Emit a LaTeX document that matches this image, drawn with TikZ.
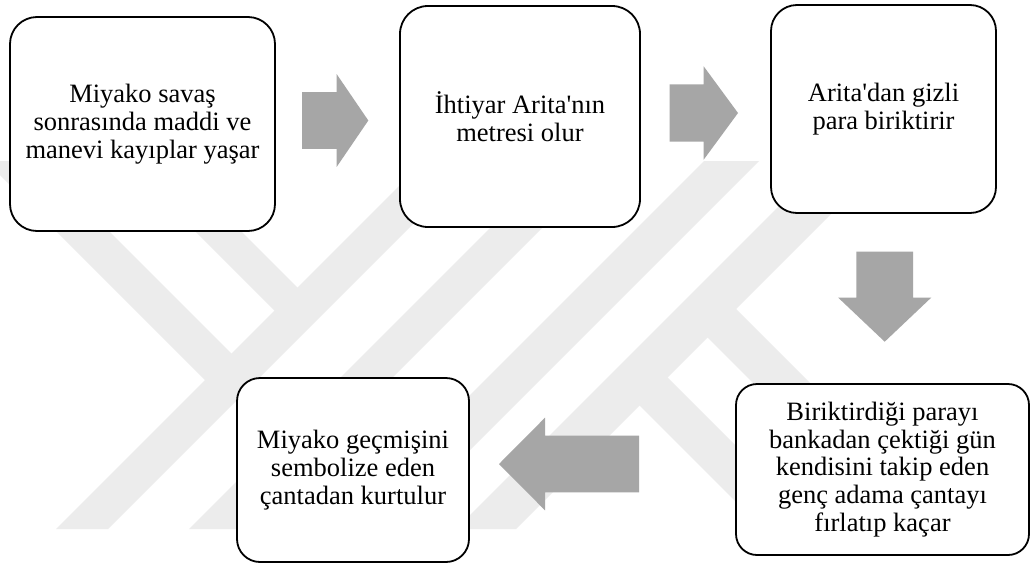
\documentclass[tikz,border=0pt]{standalone}
\usepackage{fontspec}
\setmainfont{Liberation Serif}[Ligatures=TeXOff]

\definecolor{markgray}{RGB}{236,236,236}
\definecolor{arrowgray}{RGB}{166,166,166}

\tikzset{
  stepbox/.style={draw=black, line width=1.8pt, fill=white, align=center,
    inner sep=0pt, font=\fontsize{26.5}{27.7}\selectfont},
  arrowfill/.style={fill=arrowgray},
  band/.style={fill=markgray}
}

% block arrow pointing along local +x, tail at the origin
% #1 shaft length, #2 head length, #3 half shaft width, #4 half head width
\newcommand\blockarrow[4]{%
  \fill[arrowfill] (0,-#3) -- (#1,-#3) -- (#1,-#4) -- ({#1+#2},0)
    -- (#1,#4) -- (#1,#3) -- (0,#3) -- cycle;}

\begin{document}
\begin{tikzpicture}[x=1pt,y=-1pt]
\useasboundingbox (0,0) rectangle (1033,568);
\fill[white] (0,0) rectangle (1033,568);

% faint background emblem: diagonal bands
\fill[band] (56,529) -- (108,529) -- (476,161) -- (424,161) -- cycle;
\fill[band] (189,529) -- (241,529) -- (609,161) -- (557,161) -- cycle;
\fill[band] (336,529) -- (391,529) -- (759,161) -- (704,161) -- cycle;
\fill[band] (456,529) -- (516,529) -- (884,161) -- (824,161) -- cycle;
\fill[band] (-14,161) -- (39,161) -- (244.5,366.5) -- (218,393) -- cycle;
\fill[band] (125,161) -- (171,161) -- (310.5,300.5) -- (287.5,323.5) -- cycle;
\fill[band] (692.5,322.5) -- (721,294) -- (956,529) -- (899,529) -- cycle;
\fill[band] (624.5,390.5) -- (652.5,362.5) -- (819,529) -- (763,529) -- cycle;

% steps
\node[stepbox, minimum width=265pt, minimum height=214pt, rounded corners=27pt]
  (b1) at (142.5,124) {Miyako savaş\\sonrasında maddi ve\\manevi kayıplar yaşar};
\node[stepbox, minimum width=240pt, minimum height=221pt, rounded corners=28pt]
  (b2) at (520,116.5) {İhtiyar Arita'nın\\metresi olur};
\node[stepbox, minimum width=225pt, minimum height=208pt, rounded corners=26pt]
  (b3) at (883.5,109) {Arita'dan gizli\\para biriktirir};
\node[stepbox, minimum width=293pt, minimum height=171pt, rounded corners=21pt]
  (b4) at (882.5,469.5) {Biriktirdiği parayı\\bankadan çektiği gün\\kendisini takip eden\\genç adama çantayı\\fırlatıp kaçar};
\node[stepbox, minimum width=232pt, minimum height=184pt, rounded corners=23pt]
  (b5) at (353,470) {Miyako geçmişini\\sembolize eden\\çantadan kurtulur};

% block arrows between the steps
\begin{scope}[shift={(302,120.5)}]
  \blockarrow{34.7}{31.6}{28.3}{46.35}
\end{scope}
\begin{scope}[shift={(669.7,113)}]
  \blockarrow{34}{34.3}{28.65}{46.65}
\end{scope}
\begin{scope}[shift={(884.7,251.7)}, rotate=-90]
  \blockarrow{45.8}{44.2}{28.35}{46.65}
\end{scope}
\begin{scope}[shift={(639,464)}, rotate=180]
  \blockarrow{94}{46}{28.3}{46.3}
\end{scope}
\end{tikzpicture}
\end{document}
